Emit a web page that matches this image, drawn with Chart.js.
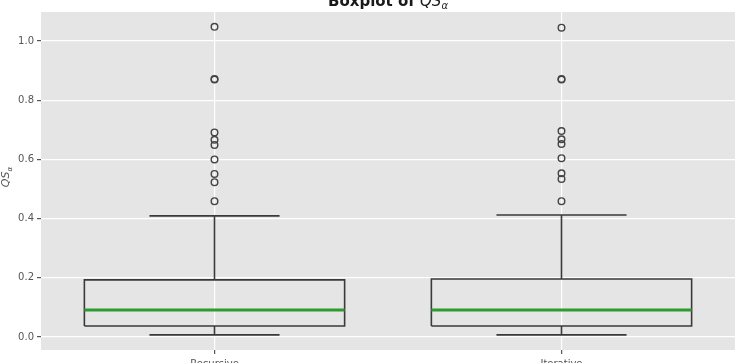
<!DOCTYPE html>
<html>
<head>
<meta charset="utf-8">
<script src="https://cdn.jsdelivr.net/npm/chart.js@4"></script>
<style>
  html, body { margin: 0; padding: 0; background: #fff; overflow: hidden; }
  /* the reference is a crop: title and x labels are cut at the edges */
  #frame { position: relative; width: 735px; height: 363px; overflow: hidden; }
  #boxplot { position: absolute; left: 0; top: -10px; }
</style>
</head>
<body>
<div id="frame"><canvas id="boxplot" width="735" height="385"></canvas></div>
<script>
(function () {
    const categories = ['Recursive', 'Iterative'];
    const lowerWhisker = [0.007, 0.007];
    const q1 = [0.037, 0.037];
    const median = [0.091, 0.091];
    const q3 = [0.193, 0.196];
    const upperWhisker = [0.409, 0.412];
    const outliers = [
        [1.048, 0.872, 0.870, 0.691, 0.666, 0.649, 0.600, 0.551, 0.523, 0.459],
        [1.045, 0.872, 0.870, 0.696, 0.668, 0.652, 0.604, 0.553, 0.534, 0.459],
    ];
    const yTickValues = [0.0, 0.2, 0.4, 0.6, 0.8, 1.0];

    const BOX_HALF = 0.375; // box is 75% of the slot
    const CAP_HALF = 0.1875; // whisker caps are half the box
    const LINE = '#3a3a3a';

    function boxOutline(i) {
        const x = i + 1;
        return [
            {x: x - BOX_HALF, y: q1[i]}, {x: x + BOX_HALF, y: q1[i]},
            {x: x + BOX_HALF, y: q3[i]}, {x: x - BOX_HALF, y: q3[i]},
            {x: x - BOX_HALF, y: q1[i]},
        ];
    }

    function whiskers(i) {
        const x = i + 1;
        return [
            {x: x, y: q3[i]}, {x: x, y: upperWhisker[i]}, {x: x, y: null},
            {x: x - CAP_HALF, y: upperWhisker[i]}, {x: x + CAP_HALF, y: upperWhisker[i]}, {x: x, y: null},
            {x: x, y: q1[i]}, {x: x, y: lowerWhisker[i]}, {x: x, y: null},
            {x: x - CAP_HALF, y: lowerWhisker[i]}, {x: x + CAP_HALF, y: lowerWhisker[i]},
        ];
    }

    function medianLine(i) {
        const x = i + 1;
        return [{x: x - BOX_HALF, y: median[i]}, {x: x + BOX_HALF, y: median[i]}];
    }

    const lineDefaults = {showLine: true, pointRadius: 0, spanGaps: false, fill: false};
    const datasets = [];
    categories.forEach(function (cat, i) {
        datasets.push(Object.assign({label: cat + ' median', data: medianLine(i),
            borderColor: '#2f9a2f', borderWidth: 3, order: 0}, lineDefaults));
        datasets.push(Object.assign({label: cat + ' box', data: boxOutline(i),
            borderColor: LINE, borderWidth: 1.6, order: 1}, lineDefaults));
        datasets.push(Object.assign({label: cat + ' whiskers', data: whiskers(i),
            borderColor: LINE, borderWidth: 1.6, order: 2}, lineDefaults));
        datasets.push({
            label: cat + ' outliers',
            data: outliers[i].map(v => ({x: i + 1, y: v})),
            showLine: false,
            pointStyle: 'circle',
            pointRadius: 3.3,
            pointBorderWidth: 1.4,
            pointBorderColor: '#444',
            pointBackgroundColor: 'rgba(0,0,0,0)',
            order: 0,
        });
    });

    const panelBackground = {
        id: 'panelBackground',
        beforeDraw(chart) {
            const {ctx, chartArea: a} = chart;
            ctx.save();
            ctx.fillStyle = '#e5e5e5';
            ctx.fillRect(a.left, a.top, a.width, a.height);
            ctx.restore();
        }
    };

    // title and y label mix bold text with italic math and a subscript
    const mathLabels = {
        id: 'mathLabels',
        afterDraw(chart) {
            const {ctx, chartArea: a} = chart;
            ctx.save();
            ctx.textBaseline = 'alphabetic';
            ctx.fillStyle = '#1a1a1a';
            const plain = 'Boxplot of ';
            ctx.font = 'bold 15px "DejaVu Sans"';
            const wPlain = ctx.measureText(plain).width;
            ctx.font = 'italic 15px "DejaVu Sans"';
            const wQS = ctx.measureText('QS').width;
            ctx.font = 'italic 10px "DejaVu Sans"';
            const wA = ctx.measureText('α').width;
            let x = (a.left + a.right) / 2 - (wPlain + wQS + wA) / 2;
            const y = 16;
            ctx.font = 'bold 15px "DejaVu Sans"';
            ctx.fillText(plain, x, y);
            x += wPlain;
            ctx.font = 'italic 15px "DejaVu Sans"';
            ctx.fillText('QS', x, y);
            x += wQS;
            ctx.font = 'italic 10px "DejaVu Sans"';
            ctx.fillText('α', x, y + 3);

            // y axis label, rotated
            ctx.fillStyle = '#555';
            ctx.translate(9, (a.top + a.bottom) / 2 - 4);
            ctx.rotate(-Math.PI / 2);
            ctx.font = 'italic 11px "DejaVu Sans"';
            const wq = ctx.measureText('QS').width;
            ctx.font = 'italic 7px "DejaVu Sans"';
            const wa = ctx.measureText('α').width;
            const sx = -(wq + wa) / 2;
            ctx.font = 'italic 11px "DejaVu Sans"';
            ctx.fillText('QS', sx, 0);
            ctx.font = 'italic 7px "DejaVu Sans"';
            ctx.fillText('α', sx + wq, 2.5);
            ctx.restore();
        }
    };

    const tickFont = {family: '"DejaVu Sans"', size: 10};

    const chart = new Chart(document.getElementById('boxplot'), {
        type: 'scatter',
        data: {datasets: datasets},
        plugins: [panelBackground, mathLabels],
        options: {
            responsive: false,
            animation: false,
            layout: {autoPadding: false, padding: {top: 22, left: 0, right: 0, bottom: 0}},
            plugins: {
                legend: {display: false},
                tooltip: {enabled: false},
                title: {display: false},
            },
            scales: {
                x: {
                    type: 'linear',
                    min: 0.5,
                    max: 2.5,
                    afterBuildTicks: (scale) => {
                        scale.ticks = categories.map((c, i) => ({value: i + 1}));
                    },
                    afterFit: (scale) => {
                        scale.height = 25;
                        scale.paddingLeft = 0;
                        scale.paddingRight = 0;
                    },
                    ticks: {
                        callback: (v) => categories[Math.round(v) - 1],
                        color: '#555',
                        font: tickFont,
                        padding: 4,
                        maxRotation: 0,
                    },
                    grid: {color: '#ffffff', lineWidth: 1.2, tickLength: 4, tickColor: '#555'},
                    border: {display: false},
                },
                y: {
                    type: 'linear',
                    min: -0.044,
                    max: 1.098,
                    afterBuildTicks: (scale) => {
                        scale.ticks = yTickValues.map(v => ({value: v}));
                    },
                    afterFit: (scale) => { scale.width = 41; },
                    ticks: {
                        callback: (v) => v.toFixed(1),
                        color: '#555',
                        font: tickFont,
                        padding: 3,
                    },
                    grid: {color: '#ffffff', lineWidth: 1.2, tickLength: 4, tickColor: '#555'},
                    border: {display: false},
                },
            },
        },
    });

    window.chart = chart;
})();
</script>
</body>
</html>
